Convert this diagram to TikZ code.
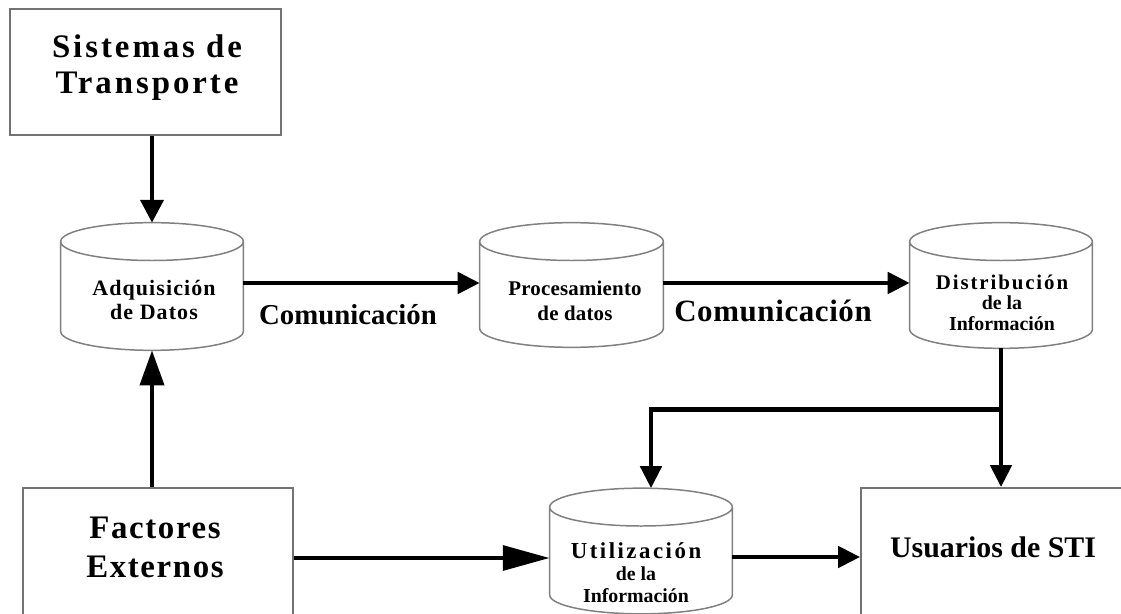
\documentclass[tikz,border=0pt]{standalone}
\usepackage{fontspec}
\setmainfont{Liberation Serif}
\usetikzlibrary{arrows.meta,calc}
\definecolor{bordergray}{gray}{0.45}
\definecolor{cylgray}{gray}{0.5}
\tikzset{
  boxst/.style={draw=bordergray, line width=1.1pt, inner sep=0pt},
  cylnode/.style={draw=none, inner sep=0pt},
  cylline/.style={draw=cylgray, line width=0.85pt},
  ttl/.style={align=center, inner sep=0pt},
  conn/.style={line width=2.55pt, -{Triangle[length=12.5pt,width=12pt]}},
  toparrow/.style={-{Triangle[length=13pt,width=13pt]}},
  uparrow/.style={-{Triangle[length=20pt,width=13.6pt]}},
  bigarrow/.style={-{Triangle[length=26.7pt,width=14pt]}},
}
\begin{document}
\begin{tikzpicture}[x=0.02cm,y=-0.02cm]
\useasboundingbox (0,0) rectangle (1121,614);
\clip (0,0) rectangle (1121,614);

% rectangles
\node[boxst, minimum width=5.42cm, minimum height=2.52cm] (sist) at (145.5,72) {};
\node[ttl, font={\bfseries\fontsize{18.7pt}{20.4pt}\selectfont\addfontfeatures{LetterSpace=9}}] (sistt) at (147,68) {Sistemas de\\Transporte};

\node[boxst, minimum width=5.4cm, minimum height=2.8cm] (fact) at (158,558) {};
\node[ttl, font={\bfseries\fontsize{18.7pt}{22.1pt}\selectfont\addfontfeatures{LetterSpace=5}}] (factt) at (155,547.5) {Factores\\Externos};

\node[boxst, minimum width=5.48cm, minimum height=2.8cm] (usu) at (998,558) {};
\node[ttl, font={\bfseries\fontsize{17pt}{20pt}\selectfont}] (usut) at (993,547) {Usuarios de STI};

% cylinders
\node[cylnode, minimum width=3.64cm, minimum height=2.54cm] (adq) at (152,286.5) {};
\node[cylnode, minimum width=3.66cm, minimum height=2.48cm] (proc) at (571.5,285) {};
\node[cylnode, minimum width=3.64cm, minimum height=2.5cm] (dist) at (1001,285.5) {};
\node[cylnode, minimum width=3.64cm, minimum height=2.5cm] (util) at (641,551) {};

\foreach \cyl in {adq,proc,dist,util}{
  \draw[cylline] let \p1=(\cyl.north west), \p2=(\cyl.south east), \n1={(\x2-\x1)/2} in
    (\x1,\y1-10.77pt) -- (\x1,\y2+10.77pt)
    arc[start angle=180, end angle=360, x radius=\n1, y radius=10.77pt]
    -- (\x2,\y1-10.77pt)
    (\x1+\n1,\y1-10.77pt) ellipse[x radius=\n1, y radius=10.77pt];
}

\node[ttl, font={\bfseries\fontsize{12.5pt}{14.2pt}\selectfont\addfontfeatures{LetterSpace=5}}] (adqt) at (154,300) {Adquisición\\de Datos};
\node[ttl, font={\bfseries\fontsize{11.9pt}{14.2pt}\selectfont\addfontfeatures{LetterSpace=1}}] (proct) at (575,300.5) {Procesamiento\\de datos};
\node[ttl, font={\bfseries\fontsize{11.3pt}{11.6pt}\selectfont}] (distt) at (1002,302.5) {{\fontsize{11.9pt}{11.6pt}\selectfont\addfontfeatures{LetterSpace=9}Distribución}\\de la\\Información};
\node[ttl, font={\bfseries\fontsize{11.3pt}{12.5pt}\selectfont}] (utilt) at (636,573) {{\fontsize{13pt}{12.5pt}\selectfont\addfontfeatures{LetterSpace=11}Utilización}\\de la\\Información};

% labels
\node[ttl, font={\bfseries\fontsize{16.4pt}{18pt}\selectfont}] (com1) at (348,315) {Comunicación};
\node[ttl, font={\bfseries\fontsize{17.6pt}{19pt}\selectfont\addfontfeatures{LetterSpace=2}}] (com2) at (773,311) {Comunicación};

% connectors
\draw[conn, toparrow] (sist.south -| adq.north) -- (adq.north);
\draw[conn, uparrow] (fact.north -| adq.south) -- (adq.south);
\draw[conn] ($(adq.east)+(0,-3.5)$) coordinate (a1) -- (a1 -| proc.west);
\draw[conn] ($(proc.east)+(0,-2)$) coordinate (a2) -- (a2 -| dist.west);
\coordinate (br) at ($(dist.south)+(0,61)$);
\draw[conn] (dist.south) -- (br |- usu.north);
\draw[conn] (br) -| ($(util.north)+(10,0)$);
\draw[conn, bigarrow] (fact.east) -- (fact.east -| util.west);
\draw[conn] ($(util.east)+(0,6)$) coordinate (a3) -- (a3 -| usu.west);
\end{tikzpicture}
\end{document}
